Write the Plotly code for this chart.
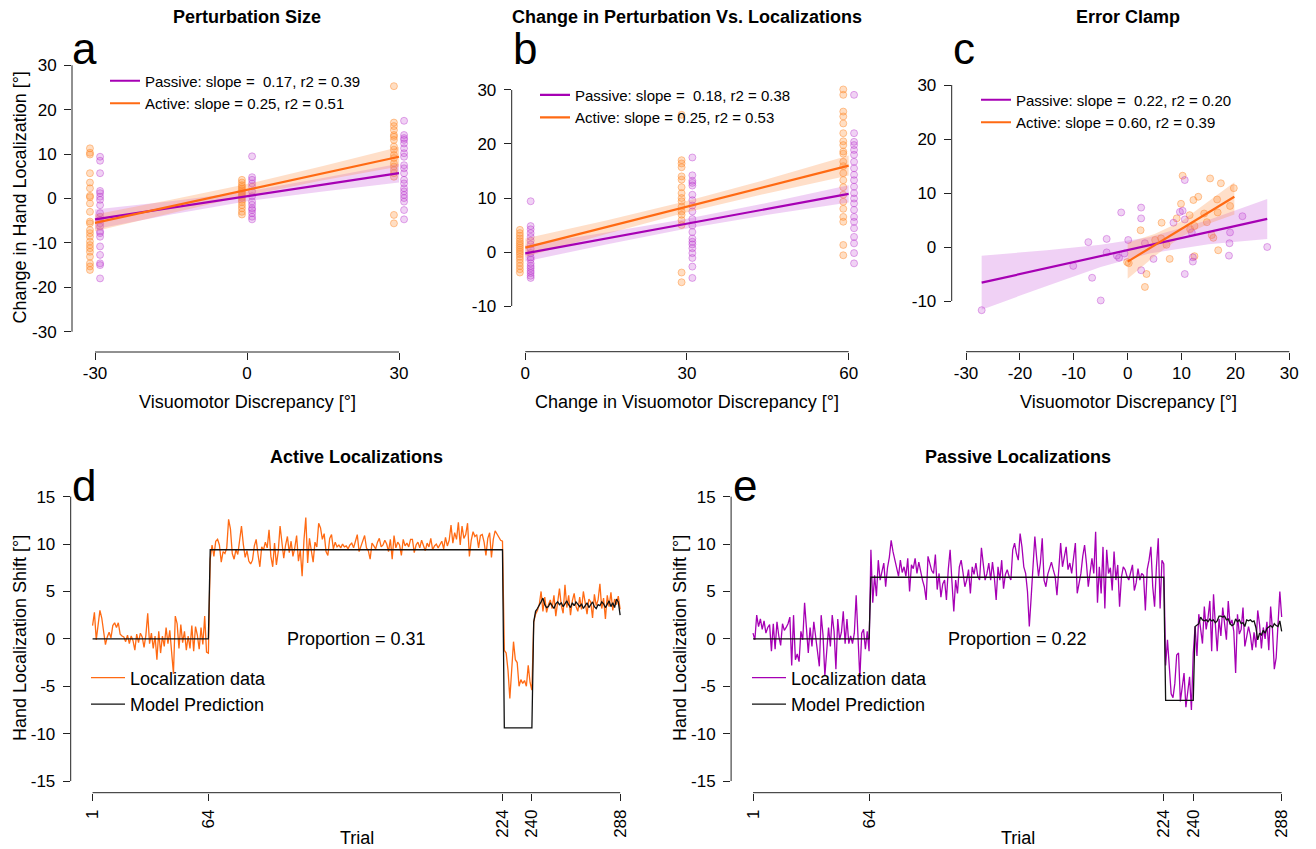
import plotly.graph_objects as go

# ---------------- data ----------------
# Panel a: Perturbation Size (columns at -30, 0, 30; active drawn left, passive right)
a_cols = [-30, 0, 30]
a_active_m30 = [11.3, 10.3, 9.9, 5.7, 3.6, 2.3, 0.6, 0.3, -1.1, -3.0, -5.2, -5.6, -7.1, -7.8, -8.6, -9.7, -10.5, -11.2, -12.0, -13.1, -14.6, -15.3, -16.1]
a_active_0 = [4.2, 3.6, 3.0, 2.6, 2.2, 1.8, 1.4, 1.0, 0.6, 0.2, -0.3, -0.8, -1.5, -2.2, -3.0, -3.6]
a_active_30 = [25.3, 17.1, 16.3, 15.4, 14.3, 13.9, 13.2, 11.7, 11.0, 9.8, 9.1, 7.9, 7.2, 6.4, 5.7, 4.9, -3.7, -5.6]
a_passive_m30 = [9.4, 8.5, 5.7, 1.7, 1.2, 0.4, -0.3, -1.5, -3.3, -4.1, -4.8, -5.6, -6.3, -7.4, -7.8, -8.6, -10.8, -12.7, -14.6, -15.0, -18.0]
a_passive_0 = [9.5, 4.8, 4.2, 3.4, 2.7, 1.6, 0.5, -0.7, -1.4, -2.2, -2.6, -3.3, -4.1, -4.7]
a_passive_30 = [17.5, 14.3, 13.6, 13.2, 12.4, 11.3, 10.2, 9.4, 7.5, 6.8, 5.7, 4.2, 3.4, 2.3, 1.6, 0.8, 0.1, -0.7, -2.6, -4.7]
a_fit_x = [-30, 30]
a_fit_active = [-5.5, 9.4]
a_fit_passive = [-4.7, 5.7]
a_band_x = [-30, -15, 0, 15, 30]
a_band_active_lo = [-7.4, -3.3, 0.65, 4.1, 7.2]
a_band_active_hi = [-3.6, -0.3, 3.25, 7.3, 11.6]
a_band_passive_lo = [-6.9, -3.6, -0.6, 1.6, 3.6]
a_band_passive_hi = [-2.5, -0.6, 1.6, 4.6, 7.8]

# Panel b: Change in Perturbation Vs. Localizations
b_cols = [0, 30, 60]
b_active_0 = [4.1, 3.5, 3.0, 2.5, 2.0, 1.6, 1.2, 0.8, 0.4, 0.0, -0.4, -0.9, -1.4, -2.0, -2.6, -3.2, -3.8]
b_active_30 = [25.4, 17.0, 16.4, 15.7, 14.0, 13.4, 12.0, 10.9, 10.0, 9.4, 8.4, 7.5, 6.9, 5.9, 5.0, -3.8, -5.6]
b_active_60 = [30.1, 29.1, 26.0, 25.1, 23.8, 22.0, 20.5, 19.8, 18.6, 18.2, 16.7, 15.9, 14.6, 13.3, 12.0, 10.6, 9.3, 8.0, 6.5, 5.6, 1.3, -0.6]
b_passive_0 = [9.4, 4.8, 4.2, 3.5, 2.8, 2.1, 1.4, 0.6, -0.2, -1.0, -1.4, -2.1, -2.6, -3.0, -3.5, -3.9, -4.4, -4.8]
b_passive_30 = [17.5, 14.2, 13.2, 12.8, 12.3, 10.6, 9.6, 8.6, 7.5, 6.1, 4.9, 3.7, 2.5, 1.9, 1.4, 0.7, -0.2, -1.1, -2.7, -4.8]
b_passive_60 = [29.1, 22.0, 20.4, 19.8, 18.9, 18.0, 16.7, 15.5, 14.3, 13.3, 12.1, 10.9, 9.9, 9.0, 7.8, 6.5, 5.6, 4.4, 2.8, 1.6, -0.2, -2.1]
b_fit_x = [0, 60]
b_fit_active = [0.8, 16.0]
b_fit_passive = [-0.25, 10.75]
b_band_x = [0, 15, 30, 45, 60]
b_band_active_lo = [-0.9, 3.35, 7.35, 10.9, 14.15]
b_band_active_hi = [2.5, 5.85, 9.45, 13.5, 17.85]
b_band_passive_lo = [-1.75, 1.4, 4.35, 6.9, 9.15]
b_band_passive_hi = [1.25, 3.6, 6.15, 9.1, 12.35]

# Panel c: Error Clamp
c_passive_x = [-27.1, -10.1, -7.3, -6.6, -5.0, -3.9, -3.9, -2.0, -1.6, -1.2, -0.6, 0.1, 2.5, 2.5, 2.5, 3.2, 4.8, 8.5, 9.7, 10.2, 10.6, 10.6, 10.6, 11.9, 12.1, 12.1, 19.0, 18.9, 18.8, 21.3, 25.9]
c_passive_y = [-11.7, -3.5, 0.9, -5.7, -9.9, 1.5, -1.0, -1.6, -2.0, 6.4, -1.2, 1.3, 7.3, 5.3, -4.3, 0.7, -2.2, 4.5, 6.5, 6.7, 12.4, 5.1, -5.0, 2.7, -1.9, -2.7, 2.7, 0.7, -1.6, 5.7, 0.0]
c_active_x = [-0.1, 0.2, 2.4, 3.2, 3.5, 5.1, 6.3, 6.2, 7.2, 7.8, 9.1, 9.9, 10.2, 11.5, 11.6, 12.2, 12.4, 12.4, 13.1, 14.2, 14.7, 15.3, 15.6, 15.9, 16.6, 16.7, 16.8, 17.3, 19.0, 19.7]
c_active_y = [-2.8, -3.0, 3.1, -7.4, -5.0, 1.3, 4.5, 1.6, 0.4, -2.2, 5.3, 8.0, 13.2, 5.9, 3.3, 8.7, 3.9, -1.7, 9.3, 6.2, 4.6, 12.7, 2.2, 1.7, 8.8, 6.4, -0.6, 11.8, 7.6, 10.9]
c_fit_active_x = [0.0, 19.8]
c_fit_active = [-2.7, 9.3]
c_fit_passive_x = [-27.1, 25.9]
c_fit_passive = [-6.6, 5.2]
c_band_active_x = [0.0, 5.0, 10.0, 15.0, 19.8]
c_band_active_lo = [-5.9, -1.7, 1.96, 4.3, 6.0]
c_band_active_hi = [0.8, 2.4, 4.76, 8.4, 12.0]
c_band_passive_x = [-27.1, -15.0, -5.0, 4.0, 15.0, 25.9]
c_band_passive_lo = [-11.6, -7.2, -3.7, -1.2, 0.5, 1.5]
c_band_passive_hi = [-1.6, -0.6, 0.4, 1.8, 5.0, 8.9]

# Panels d/e: trial-by-trial localization shifts
phase_ends = [64, 224, 240, 288]
trial_ticks = [1, 64, 224, 240, 288]

d_baseline = [1.4, 2.8, -0.1, 1.5, 3.0, 2.2, 0.9, -0.6, 0.2, 0.7, 0.1, 1.4, 1.7, 1.2, 1.7, 0.5, 0.3, 0.2, -0.3, 0.4,
              -0.5, 0.3, -0.2, -1.2, 0.5, -0.4, 0.6, 0.2, -0.9, 0.4, 2.7, -0.5, 0.6, -1.0, 0.3, -2.2, 0.8, -1.5, 0.3, -0.8,
              1.2, -0.5, 0.9, -1.8, -3.7, 2.4, 1.6, -1.0, 1.5, -0.4, 0.8, -1.2, 0.3, -1.0, 1.4, -1.3, 1.3, 0.4, -1.1, 1.2,
              -0.6, 2.4, -1.4, -1.5]
d_adapt = [8.4, 9.9, 8.7, 10.3, 10.5, 9.9, 8.1, 9.2, 9.0, 9.6,
           12.6, 11.6, 9.0, 8.4, 9.4, 8.9, 10.2, 11.9, 10.0, 8.6,
           9.3, 8.2, 7.9, 8.3, 9.8, 10.5, 8.9, 7.6, 9.7, 9.4,
           10.2, 9.6, 11.5, 8.7, 7.6, 10.1, 7.8, 9.2, 11.9, 10.4,
           8.5, 9.9, 10.8, 9.1, 10.3, 8.7, 9.6, 10.9, 8.2, 9.4,
           6.6, 10.4, 12.8, 8.0, 10.6, 9.3, 8.1, 10.2, 9.7, 12.2,
           11.7, 10.5, 11.1, 9.2, 8.8, 10.6, 11.0, 9.5, 10.2, 9.7,
           9.9, 9.6, 10.0, 9.7, 9.8, 9.5, 9.9, 10.1, 9.6, 10.3,
           11.0, 9.2, 9.8, 10.3, 10.9, 9.6, 9.3, 8.4, 10.1, 9.8,
           9.5, 10.2, 10.6, 9.7, 9.9, 10.4, 10.0, 9.2, 10.5, 8.4,
           10.9, 9.6, 10.2, 9.9, 8.8, 10.5, 9.8, 10.1, 9.7, 10.5,
           10.5, 9.1, 9.9, 10.2, 9.6, 10.4, 9.8, 9.3, 10.1, 9.7,
           10.6, 9.4, 9.8, 10.0, 9.6, 9.9, 10.3, 9.5, 10.7, 9.8,
           10.4, 12.0, 10.1, 11.2, 10.5, 12.3, 9.9, 11.9, 10.6, 11.0,
           12.2, 8.7, 10.4, 11.3, 10.8, 11.0, 9.6, 10.9, 11.0, 10.2,
           8.8, 10.6, 11.2, 8.6, 10.5, 11.4, 11.1, 10.7, 10.4, 10.3]
d_reverse = [-1.2, -1.5, -3.3, -6.3, -2.8, -0.3, -2.2, -2.5, -5.0, -4.3, -4.7, -4.4, -5.0, -2.8, -4.6, -5.4]
d_clamp = [1.8, 2.6, 3.0, 3.6, 5.0, 2.9, 4.4, 2.8, 3.6, 4.1, 3.2, 4.6, 2.4, 3.9, 5.3, 3.5, 2.7, 5.7, 3.3, 4.6,
           2.5, 4.0, 4.8, 3.4, 2.9, 4.4, 3.1, 5.0, 3.7, 2.6, 4.2, 3.9, 2.2, 4.7, 3.5, 4.1, 5.8, 3.2, 4.3, 2.1,
           4.6, 3.4, 4.9, 3.0, 4.2, 3.6, 4.5, 3.1]
d_model_levels = [0.0, 9.4, -9.4]
d_model_clamp = [1.8, 2.9, 3.2, 3.5, 3.9, 4.3, 3.6, 3.3, 3.4, 3.8, 3.5, 3.2, 3.7, 3.9, 3.6, 3.8, 3.4, 3.7, 4.0, 3.6,
                 3.3, 3.8, 3.5, 3.9, 3.6, 3.4, 3.7, 3.2, 3.5, 3.8, 3.3, 3.6, 3.9, 3.4, 3.2, 3.6, 3.5, 3.9, 3.7, 3.3,
                 3.6, 4.0, 3.4, 3.8, 3.3, 4.2, 3.9, 2.5]
d_proportion = 0.31

e_baseline = [0.6, -0.1, 2.5, 1.3, 2.1, 1.0, 1.9, 0.6, 1.2, 1.5, -1.3, 1.6, -1.1, 1.8, 0.3, -0.7, 1.6, 0.9, 1.2, 1.6,
              2.3, -2.8, 2.5, -2.2, -1.6, -2.4, 0.8, -0.1, 3.8, 0.9, -1.5, 1.2, -0.8, 1.8, 0.2, -1.1, -2.9, 2.5, 0.4, -3.9,
              -1.0, 1.2, -0.8, 2.5, 0.8, -3.2, 2.1, -0.1, 0.7, 2.9, -0.5, 2.1, -0.5, 0.3, -0.5, 0.6, 4.6, 0.8, -4.2, 0.6,
              1.0, -1.1, 0.8, -1.3]
e_adapt = [9.4, 3.8, 6.7, 4.5, 8.3, 6.2, 7.1, 8.0, 5.5, 7.5,
           8.6, 10.4, 9.2, 8.3, 7.4, 6.6, 8.3, 7.0, 7.6, 6.6,
           8.5, 5.0, 7.8, 7.4, 8.5, 6.9, 8.1, 7.0, 6.2, 5.5,
           4.1, 8.7, 8.0, 7.2, 6.9, 8.9, 5.2, 6.9, 4.4, 5.8,
           6.2, 4.1, 7.3, 9.4, 6.0, 2.9, 6.2, 4.8, 7.6, 8.3,
           7.0, 5.5, 6.2, 7.3, 4.8, 7.6, 6.8, 8.0, 6.6, 6.2,
           9.6, 7.5, 6.2, 6.9, 8.0, 6.2, 8.1, 6.5, 4.1, 7.6,
           6.2, 8.3, 5.3, 6.8, 7.3, 6.6, 6.2, 9.4, 10.1, 9.0,
           8.3, 11.1, 9.7, 7.6, 6.9, 5.0, 1.3, 4.4, 7.3, 10.8,
           8.5, 6.6, 8.0, 10.6, 6.2, 5.5, 6.8, 7.4, 8.1, 7.3,
           6.6, 4.6, 7.0, 10.1, 7.6, 8.9, 9.7, 7.3, 8.0, 6.9,
           8.7, 10.1, 4.8, 6.0, 6.9, 8.7, 9.9, 8.0, 5.5, 7.0,
           8.5, 6.9, 11.3, 3.8, 7.6, 4.8, 9.7, 3.2, 9.4, 6.9,
           7.5, 5.1, 9.2, 6.2, 7.8, 3.4, 6.5, 7.6, 7.3, 6.6,
           6.2, 7.0, 7.8, 5.1, 5.9, 7.4, 6.2, 6.9, 6.7, 3.0,
           7.3, 8.3, 9.7, 5.5, 3.4, 7.6, 10.6, 3.2, 8.3, 7.9]
e_reverse = [-2.8, -0.1, -3.3, -5.8, -6.2, -4.7, -1.7, -1.5, -6.6, -4.8, -3.6, -7.2, -5.8, -4.0, -7.5, -1.5]
e_clamp = [1.3, -1.8, 2.6, 0.8, -0.5, 3.4, 1.0, 2.2, 4.0, -1.3, 4.7, 1.5, -1.3, 2.1, 0.3, 3.3, 1.2, -0.1, 4.0, 1.5,
           2.0, 0.8, -3.6, 2.6, 0.5, 1.0, 3.3, -0.8, 0.2, 1.3, 0.4, -1.2, 0.7, -0.9, 3.0, 1.5, -1.0, 1.2, 0.0, 1.8,
           -1.2, 3.4, 1.0, -3.2, -2.0, 1.6, 5.0, 2.3]
e_model_levels = [0.0, 6.5, -6.5]
e_model_clamp = [1.3, 1.5, 1.6, 2.3, 2.0, 1.9, 2.0, 1.8, 2.1, 1.9, 2.0, 1.7, 1.9, 2.4, 2.4, 2.3, 2.4, 2.0, 2.1, 1.6,
                 1.4, 1.5, 2.1, 1.8, 2.0, 1.6, 1.7, 1.3, 2.0, 1.9, 2.0, 1.8, 1.9, 1.2, -0.1, 0.6, 0.4, 0.9, 0.6, 1.1,
                 1.3, 1.4, 1.2, 1.6, 1.4, 1.3, 1.9, 0.8]
e_proportion = 0.22

# slope / r2 values shown in the legends of panels a, b, c: (passive slope, passive r2, active slope, active r2)
fit_stats = {"a": (0.17, 0.39, 0.25, 0.51), "b": (0.18, 0.38, 0.25, 0.53), "c": (0.22, 0.20, 0.60, 0.39)}

# ---------------- style ----------------
W, H = 1316, 849
FONT = "Liberation Sans, Arial, Helvetica, sans-serif"
ORANGE = "#ff6a13"
PURPLE = "#a600b4"
OR_PT = "rgba(255,135,40,0.28)"
OR_PT_LN = "rgba(255,135,40,0.45)"
PU_PT = "rgba(185,50,205,0.22)"
PU_PT_LN = "rgba(185,50,205,0.40)"
OR_BAND = "rgba(255,140,60,0.28)"
PU_BAND = "rgba(195,70,215,0.25)"
AXC = "#222222"


def fx(p):
    return p / W


def fy(p):
    return 1 - p / H


fig = go.Figure()


def col_points(cols, lists, offset):
    xs, ys = [], []
    for c, vals in zip(cols, lists):
        xs += [c + offset] * len(vals)
        ys += vals
    return xs, ys


def add_points(xs, ys, fill, line, ax):
    fig.add_trace(go.Scatter(x=xs, y=ys, mode="markers", showlegend=False, hoverinfo="skip",
                             marker=dict(size=7, color=fill, line=dict(color=line, width=1)),
                             xaxis="x" + ax, yaxis="y" + ax))


def add_band(bx, lo, hi, color, ax):
    fig.add_trace(go.Scatter(x=list(bx) + list(bx)[::-1], y=list(hi) + list(lo)[::-1], mode="lines",
                             fill="toself", fillcolor=color, line=dict(width=0), showlegend=False,
                             hoverinfo="skip", xaxis="x" + ax, yaxis="y" + ax))


def add_fit(fxv, fyv, color, name, ax, leg):
    fig.add_trace(go.Scatter(x=fxv, y=fyv, mode="lines", name=name, line=dict(color=color, width=2.2),
                             xaxis="x" + ax, yaxis="y" + ax, legend=leg))


def leg_names(sp, rp, sa, ra):
    return ("Passive: slope =\u00a0 %.2f, r2 = %.2f" % (sp, rp), "Active: slope = %.2f, r2 = %.2f" % (sa, ra))


# ---- panel a ----
xs, ys = col_points(a_cols, [a_active_m30, a_active_0, a_active_30], -1)
add_points(xs, ys, OR_PT, OR_PT_LN, "")
xs, ys = col_points(a_cols, [a_passive_m30, a_passive_0, a_passive_30], 1)
add_points(xs, ys, PU_PT, PU_PT_LN, "")
add_band(a_band_x, a_band_passive_lo, a_band_passive_hi, PU_BAND, "")
add_band(a_band_x, a_band_active_lo, a_band_active_hi, OR_BAND, "")
np_, na_ = leg_names(*fit_stats["a"])
add_fit(a_fit_x, a_fit_passive, PURPLE, np_, "", "legend")
add_fit(a_fit_x, a_fit_active, ORANGE, na_, "", "legend")

# ---- panel b ----
xs, ys = col_points(b_cols, [b_active_0, b_active_30, b_active_60], -1)
add_points(xs, ys, OR_PT, OR_PT_LN, "2")
xs, ys = col_points(b_cols, [b_passive_0, b_passive_30, b_passive_60], 1)
add_points(xs, ys, PU_PT, PU_PT_LN, "2")
add_band(b_band_x, b_band_passive_lo, b_band_passive_hi, PU_BAND, "2")
add_band(b_band_x, b_band_active_lo, b_band_active_hi, OR_BAND, "2")
np_, na_ = leg_names(*fit_stats["b"])
add_fit(b_fit_x, b_fit_passive, PURPLE, np_, "2", "legend2")
add_fit(b_fit_x, b_fit_active, ORANGE, na_, "2", "legend2")

# ---- panel c ----
add_points(c_active_x, c_active_y, OR_PT, OR_PT_LN, "3")
add_points(c_passive_x, c_passive_y, PU_PT, PU_PT_LN, "3")
add_band(c_band_passive_x, c_band_passive_lo, c_band_passive_hi, PU_BAND, "3")
add_band(c_band_active_x, c_band_active_lo, c_band_active_hi, OR_BAND, "3")
np_, na_ = leg_names(*fit_stats["c"])
add_fit(c_fit_passive_x, c_fit_passive, PURPLE, np_, "3", "legend3")
add_fit(c_fit_active_x, c_fit_active, ORANGE, na_, "3", "legend3")


# ---- panels d / e ----
def model_series(levels, clamp):
    out, start = [], 0
    for lvl, end in zip(levels, phase_ends[:3]):
        out += [lvl] * (end - start)
        start = end
    return out + clamp


trials = list(range(1, phase_ends[-1] + 1))
for ax, leg, data, model, color in [
    ("4", "legend4", d_baseline + d_adapt + d_reverse + d_clamp, model_series(d_model_levels, d_model_clamp), ORANGE),
    ("5", "legend5", e_baseline + e_adapt + e_reverse + e_clamp, model_series(e_model_levels, e_model_clamp), PURPLE),
]:
    fig.add_trace(go.Scatter(x=trials, y=data, mode="lines", name="Localization data",
                             line=dict(color=color, width=1.3), xaxis="x" + ax, yaxis="y" + ax, legend=leg))
    fig.add_trace(go.Scatter(x=trials, y=model, mode="lines", name="Model Prediction",
                             line=dict(color="#111111", width=1.3), xaxis="x" + ax, yaxis="y" + ax, legend=leg))

# ---------------- axes ----------------
panels = {
    "": dict(xd=(72, 422), yd=(45, 352), xr=(-34.54, 34.54), yr=(-34.57, 34.57),
             xt=[-30, 0, 30], yt=[-30, -20, -10, 0, 10, 20, 30]),
    "2": dict(xd=(511.7, 861.7), yd=(45, 351.7), xr=(-2.52, 62.42), yr=(-18.46, 38.33),
              xt=[0, 30, 60], yt=[-10, 0, 10, 20, 30]),
    "3": dict(xd=(951.7, 1301.7), yd=(45, 351.7), xr=(-32.66, 32.3), yr=(-19.39, 37.41),
              xt=[-30, -20, -10, 0, 10, 20, 30], yt=[-10, 0, 10, 20, 30]),
    "4": dict(xd=(70.7, 642.0), yd=(485, 792.7), xr=(-10.9, 299.9), yr=(-16.23, 16.23),
              xt=trial_ticks, yt=[-15, -10, -5, 0, 5, 10, 15]),
    "5": dict(xd=(731.1, 1303.6), yd=(485, 792.7), xr=(-10.9, 299.9), yr=(-16.23, 16.23),
              xt=trial_ticks, yt=[-15, -10, -5, 0, 5, 10, 15]),
}

shapes = []
layout_axes = {}
for ax, p in panels.items():
    common = dict(showgrid=False, zeroline=False, showline=False, ticks="outside", ticklen=7, tickwidth=1,
                  tickcolor=AXC, tickfont=dict(family=FONT, size=17, color="#000"), tickmode="array",
                  fixedrange=True)
    xa = dict(common, domain=[fx(p["xd"][0]), fx(p["xd"][1])], range=list(p["xr"]), tickvals=p["xt"],
              ticktext=[str(v) for v in p["xt"]], anchor="y" + ax)
    if ax in ("4", "5"):
        xa["tickangle"] = -90
        xa["ticklabelstandoff"] = 2
    else:
        xa["ticklabelstandoff"] = -1
    ya = dict(common, domain=[fy(p["yd"][1]), fy(p["yd"][0])], range=list(p["yr"]), tickvals=p["yt"],
              ticktext=[str(v) for v in p["yt"]], anchor="x" + ax, ticklabelstandoff=4)
    layout_axes["xaxis" + ax] = xa
    layout_axes["yaxis" + ax] = ya
    shapes.append(dict(type="line", xref="x" + ax, yref="y" + ax + " domain", x0=min(p["xt"]), x1=max(p["xt"]),
                       y0=0, y1=0, line=dict(color=AXC, width=1)))
    shapes.append(dict(type="line", xref="x" + ax + " domain", yref="y" + ax, x0=0, x1=0, y0=min(p["yt"]),
                       y1=max(p["yt"]), line=dict(color=AXC, width=1)))

# ---------------- text ----------------
ann = []


def text(x, y, s, size, bold=False, angle=0, xanchor="center", yanchor="middle", height=None):
    a = dict(x=fx(x), y=fy(y), xref="paper", yref="paper", text="<b>%s</b>" % s if bold else s,
             showarrow=False, xanchor=xanchor, yanchor=yanchor, textangle=angle,
             font=dict(family=FONT, size=size, color="#000"))
    if height:
        a["height"] = height
    ann.append(a)


text(247, 16.5, "Perturbation Size", 18, True, height=22)
text(687, 16.5, "Change in Perturbation Vs. Localizations", 18, True, height=22)
text(1127.5, 16.5, "Error Clamp", 18, True, height=22)
text(357, 457, "Active Localizations", 18, True, height=22)
text(1018, 457, "Passive Localizations", 18, True, height=22)
for lx, ly, s in [(70, 48, "a"), (510.5, 48, "b"), (951, 48, "c"), (69.5, 485, "d"), (731, 485, "e")]:
    text(lx, ly, s, 44, xanchor="left", height=40)
text(247, 402, "Visuomotor Discrepancy [°]", 18)
text(687, 402, "Change in Visuomotor Discrepancy [°]", 18)
text(1128, 402, "Visuomotor Discrepancy [°]", 18)
text(19.5, 198, "Change in Hand Localization [°]", 18, angle=-90)
text(20, 638, "Hand Localization Shift [°]", 18, angle=-90)
text(680, 638, "Hand Localization Shift [°]", 18, angle=-90)
text(357, 837.5, "Trial", 18)
text(1018, 837.5, "Trial", 18)
for ax, prop in [("4", d_proportion), ("5", e_proportion)]:
    ann.append(dict(x=144.5, y=0, xref="x" + ax, yref="y" + ax, text="Proportion = %.2f" % prop,
                    showarrow=False, xanchor="center", yanchor="middle",
                    font=dict(family=FONT, size=18, color="#000")))


def legend_at(left_px, top_px, size, iw=30):
    return dict(x=fx(left_px), y=fy(top_px), xanchor="left", yanchor="top", bgcolor="rgba(0,0,0,0)",
                borderwidth=0, font=dict(family=FONT, size=size, color="#000"), traceorder="normal",
                itemclick=False, itemdoubleclick=False, itemwidth=iw)


fig.update_layout(
    width=W, height=H, margin=dict(l=0, r=0, t=0, b=0), paper_bgcolor="white", plot_bgcolor="white",
    font=dict(family=FONT, color="#000"), shapes=shapes, annotations=ann, hovermode=False,
    legend=legend_at(105, 64.5, 15), legend2=legend_at(535, 78.7, 15), legend3=legend_at(976, 83.5, 15),
    legend4=legend_at(86, 659.5, 18, 34), legend5=legend_at(747, 659.5, 18, 34),
    **layout_axes,
)

fig.write_html("out.html", config={"displayModeBar": False},
               post_script="document.body.style.margin='0px';")
